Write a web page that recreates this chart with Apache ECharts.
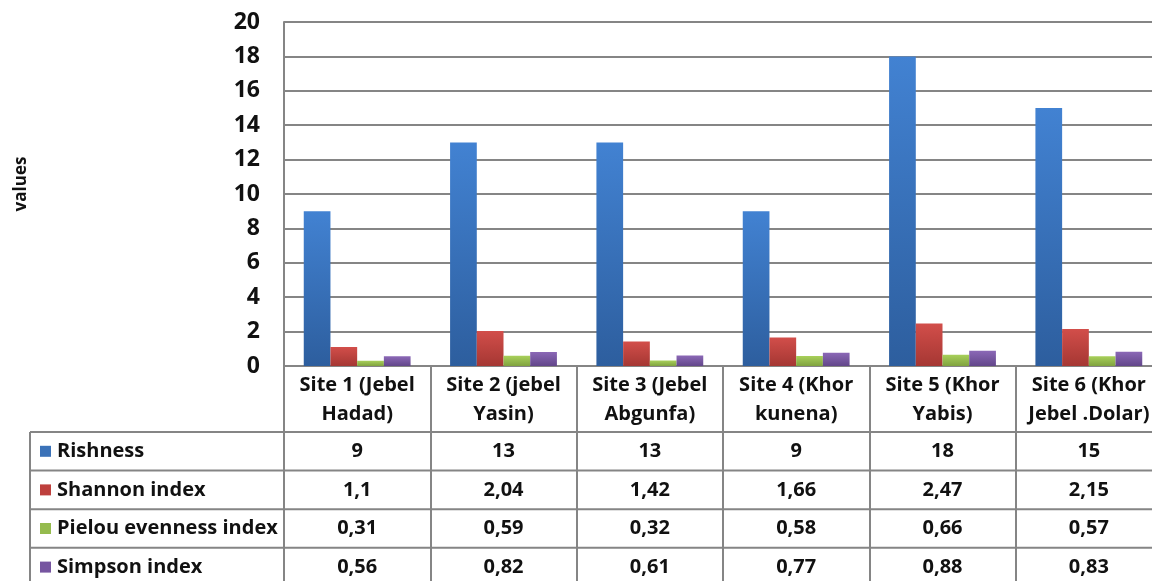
<!DOCTYPE html>
<html><head><meta charset="utf-8">
<script src="https://cdn.jsdelivr.net/npm/echarts@6/dist/echarts.min.js"></script>
<style>html,body{margin:0;padding:0;background:#fff;}#c{width:1152px;height:581px;}</style>
</head><body><div id="c"></div>
<script>
// ---- data ----
const categories = ['Site 1 (Jebel\nHadad)', 'Site 2 (jebel\nYasin)', 'Site 3 (Jebel\nAbgunfa)', 'Site 4 (Khor\nkunena)', 'Site 5 (Khor\nYabis)', 'Site 6 (Khor\nJebel .Dolar)'];
const seriesNames = ['Rishness', 'Shannon index', 'Pielou evenness index', 'Simpson index'];
const rishness = [9, 13, 13, 9, 18, 15];
const shannon = [1.1, 2.04, 1.42, 1.66, 2.47, 2.15];
const pielou = [0.31, 0.59, 0.32, 0.58, 0.66, 0.57];
const simpson = [0.56, 0.82, 0.61, 0.77, 0.88, 0.83];
const yMin = 0, yMax = 20, yStep = 2;
const axisTitle = 'values';

// ---- styles ----
const FONT = "'Open Sans', 'DejaVu Sans', sans-serif";
const GRID_COLOR = '#858585';
const colorsTop = ['#4282d2', '#d24e4a', '#a8d05a', '#8b68b6'];
const colorsBot = ['#2d5e9e', '#a53733', '#80a33f', '#62468a'];
const swatch = ['#3b72b8', '#be403d', '#95bb4e', '#7655a0'];
const allSeries = [rishness, shannon, pielou, simpson];

function grad(i) {
  return new echarts.graphic.LinearGradient(0, 0, 0, 1, [
    { offset: 0, color: colorsTop[i] }, { offset: 1, color: colorsBot[i] }
  ]);
}
function fmt(v) { return String(v).replace('.', ','); }

const chart = echarts.init(document.getElementById('c'), null, { renderer: 'canvas' });
const option = {
  backgroundColor: '#ffffff',
  animation: false,
  grid: { left: 284, top: 22, width: 878, height: 344, containLabel: false, outerBoundsMode: 'none' },
  xAxis: {
    type: 'category',
    data: categories,
    axisLine: { show: true, lineStyle: { color: GRID_COLOR, width: 2 } },
    axisTick: { show: true, length: 240, lineStyle: { color: GRID_COLOR, width: 2 } },
    axisLabel: { fontFamily: FONT, fontWeight: 'bold', fontSize: 20, color: '#111', lineHeight: 29, margin: 5, interval: 0 }
  },
  yAxis: {
    type: 'value', min: yMin, max: yMax, interval: yStep,
    axisLine: { show: true, lineStyle: { color: GRID_COLOR, width: 2 } },
    axisTick: { show: false },
    axisLabel: { fontFamily: FONT, fontWeight: 'bold', fontSize: 23, color: '#111', margin: 24 },
    splitLine: { show: true, lineStyle: { color: GRID_COLOR, width: 2 } }
  },
  series: seriesNames.map((n, i) => ({
    name: n, type: 'bar', data: allSeries[i],
    barGap: '0%', barCategoryGap: '27%',
    itemStyle: { color: grad(i) }
  }))
};
chart.setOption(option);

// ---- axis title and data table, placed through the chart's scales ----
const x0 = chart.convertToPixel({ xAxisIndex: 0 }, 0);
const yBase = chart.convertToPixel({ yAxisIndex: 0 }, 0);
const yTop = chart.convertToPixel({ yAxisIndex: 0 }, yMax);
const headerH = 66, rowH = 38.6, tableLeft = 30;
const graphics = [];
graphics.push({ type: 'text', x: 21, y: (yBase + yTop) / 2 - 10, rotation: Math.PI / 2,
  style: { text: axisTitle, fontFamily: FONT, fontWeight: 'bold', fontSize: 17, fill: '#111', textAlign: 'center', verticalAlign: 'middle' }, z: 10 });
const lineStyle = { stroke: GRID_COLOR, lineWidth: 2 };
for (let k = 0; k <= seriesNames.length; k++) {
  const y = yBase + headerH + k * rowH;
  graphics.push({ type: 'line', shape: { x1: tableLeft, y1: y, x2: 1200, y2: y }, style: lineStyle, z: 10 });
}
graphics.push({ type: 'line', shape: { x1: tableLeft, y1: yBase + headerH, x2: tableLeft, y2: 700 }, style: lineStyle, z: 10 });
seriesNames.forEach((n, r) => {
  const cy = yBase + headerH + r * rowH + rowH / 2;
  graphics.push({ type: 'rect', shape: { x: 40, y: cy - 5.5, width: 11, height: 11 }, style: { fill: swatch[r] }, z: 10 });
  graphics.push({ type: 'text', x: 57, y: cy, style: { text: n, fontFamily: FONT, fontWeight: 'bold', fontSize: 20, fill: '#111', verticalAlign: 'middle', textAlign: 'left' }, z: 10 });
  allSeries[r].forEach((v, c) => {
    const cx = chart.convertToPixel({ xAxisIndex: 0 }, c);
    graphics.push({ type: 'text', x: cx, y: cy, style: { text: fmt(v), fontFamily: FONT, fontWeight: 'bold', fontSize: 20, fill: '#111', verticalAlign: 'middle', textAlign: 'center' }, z: 10 });
  });
});
chart.setOption({ graphic: graphics });
</script></body></html>
